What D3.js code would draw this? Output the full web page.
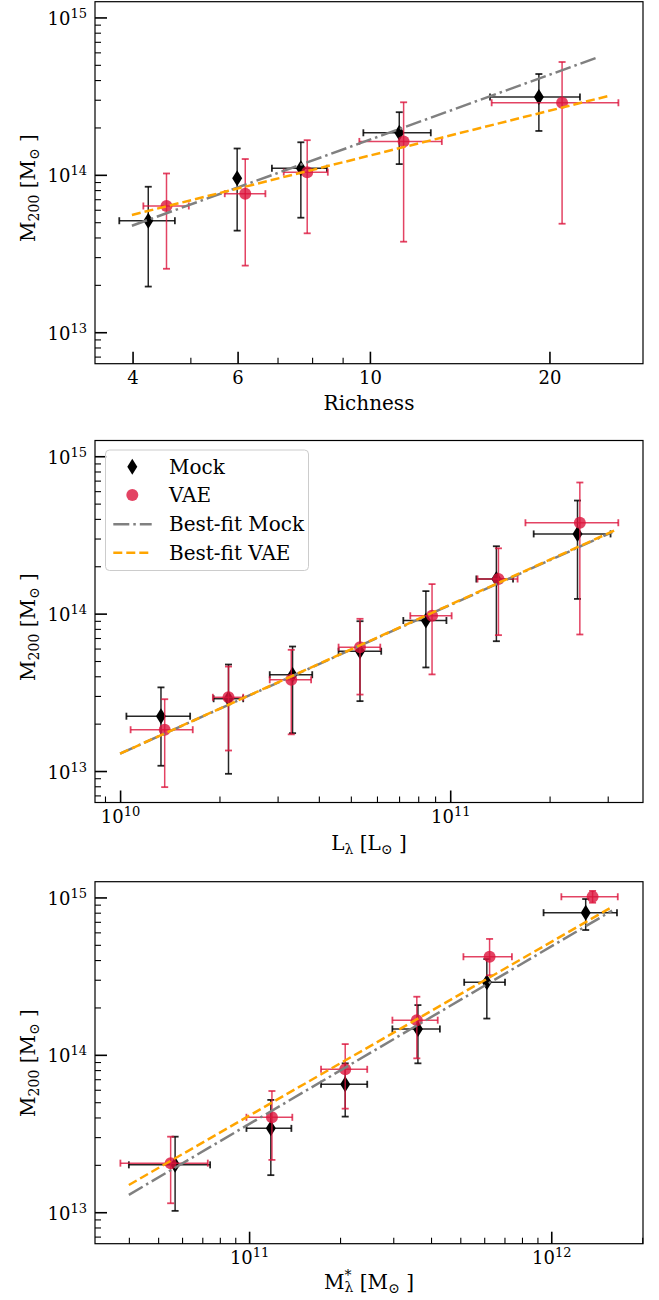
<!DOCTYPE html>
<html><head><meta charset="utf-8">
<script src="https://cdn.jsdelivr.net/npm/d3@7"></script>
<style>
body{margin:0;background:#fff}
svg{display:block}
text{font-family:"DejaVu Serif",serif;fill:#000}
</style>
</head><body>
<svg id="chart" width="659" height="1300"></svg>
<script>
// ---------------- Shared y axis ----------------
const yTicks = [1e13, 1e14, 1e15];
const yTickExp = ["13", "14", "15"];

// ---------------- Panel 1: Richness ----------------
const richTicks = [4, 6, 10, 20];
const richTickLabels = ["4", "6", "10", "20"];
const richMockX   = [4.25, 5.99, 7.66, 11.2, 19.2];
const richMockXLo = [3.80, 5.99, 6.85, 9.75, 15.9];
const richMockXHi = [4.71, 5.99, 8.47, 12.65, 22.5];
const richMockY   = [5.11e13, 9.5e13, 1.10e14, 1.85e14, 3.12e14];
const richMockYLo = [1.95e13, 4.42e13, 5.34e13, 1.17e14, 1.90e14];
const richMockYHi = [8.4e13, 1.47e14, 1.61e14, 2.5e14, 4.37e14];
const richVaeX    = [4.56, 6.18, 7.85, 11.39, 21.0];
const richVaeXLo  = [4.17, 5.71, 7.17, 9.6, 16.0];
const richVaeXHi  = [4.97, 6.68, 8.50, 13.2, 26.1];
const richVaeY    = [6.34e13, 7.59e13, 1.04e14, 1.63e14, 2.87e14];
const richVaeYLo  = [2.53e13, 2.65e13, 4.25e13, 3.76e13, 4.89e13];
const richVaeYHi  = [1.02e14, 1.26e14, 1.66e14, 2.89e14, 5.21e14];
const richFitMockX = [3.99, 24.1],  richFitMockY = [4.75e13, 5.58e14];
const richFitVaeX  = [3.99, 25.2],  richFitVaeY  = [5.56e13, 3.18e14];

// ---------------- Panel 2: L_lambda ----------------
const lumTicks = [1e10, 1e11];
const lumTickExp = ["10", "11"];
const lumMockX   = [1.33e10, 2.13e10, 3.33e10, 5.33e10, 8.44e10, 1.38e11, 2.43e11];
const lumMockXLo = [1.045e10, 1.92e10, 2.84e10, 4.59e10, 7.21e10, 1.2e11, 1.79e11];
const lumMockXHi = [1.63e10, 2.36e10, 3.82e10, 6.18e10, 9.74e10, 1.55e11, 3.06e11];
const lumMockY   = [2.23e13, 2.88e13, 4.09e13, 5.77e13, 9.04e13, 1.66e14, 3.21e14];
const lumMockYLo = [1.08e13, 9.6e12, 1.74e13, 2.78e13, 4.55e13, 6.68e13, 1.24e14];
const lumMockYHi = [3.4e13, 4.75e13, 6.18e13, 8.95e13, 1.39e14, 2.68e14, 5.23e14];
const lumVaeX    = [1.365e10, 2.13e10, 3.3e10, 5.33e10, 8.81e10, 1.4e11, 2.47e11];
const lumVaeXLo  = [1.076e10, 1.91e10, 2.84e10, 4.59e10, 7.57e10, 1.21e11, 1.69e11];
const lumVaeXHi  = [1.66e10, 2.36e10, 3.79e10, 6.14e10, 1.01e11, 1.6e11, 3.23e11];
const lumVaeY    = [1.83e13, 2.94e13, 3.8e13, 6.12e13, 9.69e13, 1.66e14, 3.78e14];
const lumVaeYLo  = [7.9e12, 1.35e13, 1.71e13, 3.06e13, 4.11e13, 7.3e13, 7.37e13];
const lumVaeYHi  = [2.86e13, 4.61e13, 5.89e13, 9.27e13, 1.54e14, 2.6e14, 6.81e14];
const lumFitMockX = [1.0e10, 3.1e11],  lumFitMockY = [1.29e13, 3.3e14];
const lumFitVaeX  = [1.0e10, 3.15e11], lumFitVaeY  = [1.29e13, 3.38e14];

// ---------------- Panel 3: M*_lambda ----------------
const smTicks = [1e11, 1e12];
const smTickExp = ["11", "12"];
const smMockX   = [5.69e10, 1.18e11, 2.08e11, 3.62e11, 6.12e11, 1.3e12];
const smMockXLo = [4.0e10, 9.8e10, 1.73e11, 2.98e11, 5.15e11, 9.43e11];
const smMockXHi = [7.43e10, 1.38e11, 2.46e11, 4.28e11, 7.03e11, 1.65e12];
const smMockY   = [2.0e13, 3.41e13, 6.5e13, 1.46e14, 2.89e14, 8.0e14];
const smMockYLo = [1.02e13, 1.72e13, 4.05e13, 8.83e13, 1.70e14, 6.21e14];
const smMockYHi = [3.02e13, 5.17e13, 8.83e13, 2.07e14, 4.06e14, 9.77e14];
const smVaeX    = [5.5e10, 1.19e11, 2.08e11, 3.59e11, 6.25e11, 1.37e12];
const smVaeXLo  = [3.75e10, 9.8e10, 1.73e11, 2.98e11, 5.12e11, 1.08e12];
const smVaeXHi  = [7.3e10, 1.39e11, 2.46e11, 4.21e11, 7.41e11, 1.66e12];
const smVaeY    = [2.05e13, 4.01e13, 8.09e13, 1.66e14, 4.2e14, 1.01e15];
const smVaeYLo  = [1.14e13, 2.15e13, 4.55e13, 9.5e13, 3.2e14, 9.26e14];
const smVaeYHi  = [3.02e13, 5.89e13, 1.17e14, 2.34e14, 5.45e14, 1.1e15];
const smFitMockX = [4.0e10, 1.59e12], smFitMockY = [1.29e13, 8.24e14];
const smFitVaeX  = [4.0e10, 1.56e12], smFitVaeY  = [1.49e13, 8.53e14];

// ---------------- Legend ----------------
const legendLabels = ["Mock", "VAE", "Best-fit Mock", "Best-fit VAE"];

// ---------------- Layout / style ----------------
const LEFT = 95, RIGHT = 643, PH = 362;
const MOCK_C = "#000", VAE_C = "crimson", FITM_C = "#808080", FITV_C = "#FFA500";
const svg = d3.select("#chart");

function zipPts(x, xl, xh, y, yl, yh) {
  return x.map((v, i) => ({x: v, xl: xl[i], xh: xh[i], y: y[i], yl: yl[i], yh: yh[i]}));
}
function minorTicks(domain, majors) {
  const out = []; const [a, b] = domain;
  for (let e = Math.floor(Math.log10(a)); e <= Math.ceil(Math.log10(b)); e++)
    for (let m = 1; m < 10; m++) {
      const v = m * Math.pow(10, e);
      if (v >= a * 0.9999 && v <= b * 1.0001 && !majors.some(t => Math.abs(t - v) / v < 1e-6)) out.push(v);
    }
  return out;
}
function supLabel(sel, exp, fs, supDy) {
  sel.text(null);
  sel.append("tspan").text("10");
  sel.append("tspan").attr("dy", supDy).attr("font-size", fs).text(exp);
}

function panel(cfg) {
  const top = cfg.top, bottom = top + PH;
  const x = d3.scaleLog().domain(cfg.xDomain).range([LEFT, RIGHT]);
  const y = d3.scaleLog().domain([Math.pow(10, 12.8), Math.pow(10, 15.1)]).range([bottom, top]);
  const g = svg.append("g");

  // x axis
  const xMaj = g.append("g").attr("transform", `translate(0,${bottom})`)
    .call(d3.axisBottom(x).tickValues(cfg.xTicks).tickSizeInner(-12).tickSizeOuter(0).tickPadding(0)
      .tickFormat((d, i) => cfg.xTickLabels ? cfg.xTickLabels[i] : ""));
  xMaj.select(".domain").remove();
  xMaj.selectAll(".tick line").attr("stroke", "#000").attr("stroke-width", 1.6);
  xMaj.selectAll(".tick text").attr("font-size", 18).attr("font-family", "DejaVu Serif").attr("fill", "#000")
    .attr("dy", null).attr("y", cfg.xExp ? 20.5 : 20)
    .each(function(d, i) { if (cfg.xExp) supLabel(d3.select(this), cfg.xExp[i], 13, -7); });
  const xMin = g.append("g").attr("transform", `translate(0,${bottom})`)
    .call(d3.axisBottom(x).tickValues(minorTicks(cfg.xDomain, cfg.xTicks)).tickSizeInner(-6).tickSizeOuter(0).tickFormat(""));
  xMin.select(".domain").remove();
  xMin.selectAll(".tick line").attr("stroke", "#000").attr("stroke-width", 1.1);

  // y axis
  const yMaj = g.append("g").attr("transform", `translate(${LEFT},0)`)
    .call(d3.axisLeft(y).tickValues(yTicks).tickSizeInner(-12).tickSizeOuter(0).tickPadding(8).tickFormat(""));
  yMaj.select(".domain").remove();
  yMaj.selectAll(".tick line").attr("stroke", "#000").attr("stroke-width", 1.6);
  yMaj.selectAll(".tick text").attr("font-size", 18).attr("font-family", "DejaVu Serif").attr("fill", "#000")
    .attr("dy", null).attr("y", 7)
    .each(function(d, i) { supLabel(d3.select(this), yTickExp[i], 13, -7); });
  const yMin = g.append("g").attr("transform", `translate(${LEFT},0)`)
    .call(d3.axisLeft(y).tickValues(minorTicks(y.domain(), yTicks)).tickSizeInner(-6).tickSizeOuter(0).tickFormat(""));
  yMin.select(".domain").remove();
  yMin.selectAll(".tick line").attr("stroke", "#000").attr("stroke-width", 1.1);

  // error bars + markers
  function series(pts, color, barOpacity, marker) {
    const s = g.append("g");
    const cap = 3.5;
    pts.forEach(p => {
      const cx = x(p.x), cy = y(p.y);
      const b = s.append("g").attr("stroke", color).attr("stroke-opacity", barOpacity).attr("fill", "none");
      b.append("line").attr("x1", cx).attr("x2", cx).attr("y1", y(p.yl)).attr("y2", y(p.yh)).attr("stroke-width", 1.5);
      [p.yl, p.yh].forEach(v => b.append("line").attr("x1", cx - cap).attr("x2", cx + cap)
        .attr("y1", y(v)).attr("y2", y(v)).attr("stroke-width", 1.8));
      if (p.xh > p.xl) {
        b.append("line").attr("y1", cy).attr("y2", cy).attr("x1", x(p.xl)).attr("x2", x(p.xh)).attr("stroke-width", 1.5);
        [p.xl, p.xh].forEach(v => b.append("line").attr("y1", cy - cap).attr("y2", cy + cap)
          .attr("x1", x(v)).attr("x2", x(v)).attr("stroke-width", 1.8));
      }
      marker(s, cx, cy);
    });
  }
  const diamond = (s, cx, cy) => s.append("path").attr("d", `M${cx},${cy - 8}L${cx + 5},${cy}L${cx},${cy + 8}L${cx - 5},${cy}Z`).attr("fill", MOCK_C);
  const circle = (s, cx, cy) => s.append("circle").attr("cx", cx).attr("cy", cy).attr("r", 6).attr("fill", VAE_C).attr("fill-opacity", 0.8);

  series(cfg.mock, MOCK_C, 0.85, diamond);
  series(cfg.vae, VAE_C, 0.8, circle);

  // best-fit lines
  const line = d3.line().x(d => x(d[0])).y(d => y(d[1]));
  g.append("path").attr("d", line(d3.zip(cfg.fitMockX, cfg.fitMockY))).attr("fill", "none")
    .attr("stroke", FITM_C).attr("stroke-width", 2.5).attr("stroke-dasharray", "16,4,2.5,4");
  g.append("path").attr("d", line(d3.zip(cfg.fitVaeX, cfg.fitVaeY))).attr("fill", "none")
    .attr("stroke", FITV_C).attr("stroke-width", 2.5).attr("stroke-dasharray", "9,4");

  // frame
  g.append("rect").attr("x", LEFT).attr("y", top).attr("width", RIGHT - LEFT).attr("height", PH)
    .attr("fill", "none").attr("stroke", "#000").attr("stroke-width", 1.2);

  // y label
  const yl = g.append("text").attr("transform", `translate(35,${cfg.yLabelCy}) rotate(-90)`)
    .attr("text-anchor", "middle").attr("font-size", 20);
  yl.append("tspan").text("M");
  yl.append("tspan").attr("font-size", 14).attr("dy", 4).text("200");
  yl.append("tspan").attr("dy", -4).text(" [M");
  yl.append("tspan").attr("font-size", 14).attr("dy", 4).text("\u2299");
  yl.append("tspan").attr("dy", -4).text(" ]");

  // x label
  const xl = g.append("text").attr("x", (LEFT + RIGHT) / 2).attr("y", cfg.xLabelY)
    .attr("text-anchor", "middle").attr("font-size", 20);
  cfg.xLabel(xl);

  return {g, x, y};
}

// Panel 1
panel({
  top: 1.7, xDomain: [3.46, 28.7], xTicks: richTicks, xTickLabels: richTickLabels,
  mock: zipPts(richMockX, richMockXLo, richMockXHi, richMockY, richMockYLo, richMockYHi),
  vae: zipPts(richVaeX, richVaeXLo, richVaeXHi, richVaeY, richVaeYLo, richVaeYHi),
  fitMockX: richFitMockX, fitMockY: richFitMockY, fitVaeX: richFitVaeX, fitVaeY: richFitVaeY,
  yLabelCy: 188, xLabelY: 410,
  xLabel: t => t.text("Richness")
});

// Panel 2
const p2 = panel({
  top: 440.5, xDomain: [Math.pow(10, 9.924), Math.pow(10, 11.584)], xTicks: lumTicks, xExp: lumTickExp,
  mock: zipPts(lumMockX, lumMockXLo, lumMockXHi, lumMockY, lumMockYLo, lumMockYHi),
  vae: zipPts(lumVaeX, lumVaeXLo, lumVaeXHi, lumVaeY, lumVaeYLo, lumVaeYHi),
  fitMockX: lumFitMockX, fitMockY: lumFitMockY, fitVaeX: lumFitVaeX, fitVaeY: lumFitVaeY,
  yLabelCy: 627, xLabelY: 850,
  xLabel: t => {
    t.append("tspan").text("L");
    t.append("tspan").attr("font-size", 14).attr("dy", 4).text("\u03bb");
    t.append("tspan").attr("dy", -4).text(" [L");
    t.append("tspan").attr("font-size", 14).attr("dy", 4).text("\u2299");
    t.append("tspan").attr("dy", -4).text(" ]");
  }
});

// Panel 3
panel({
  top: 881.7, xDomain: [Math.pow(10, 10.49), Math.pow(10, 12.3036)], xTicks: smTicks, xExp: smTickExp,
  mock: zipPts(smMockX, smMockXLo, smMockXHi, smMockY, smMockYLo, smMockYHi),
  vae: zipPts(smVaeX, smVaeXLo, smVaeXHi, smVaeY, smVaeYLo, smVaeYHi),
  fitMockX: smFitMockX, fitMockY: smFitMockY, fitVaeX: smFitVaeX, fitVaeY: smFitVaeY,
  yLabelCy: 1063, xLabelY: 1289,
  xLabel: t => {
    t.append("tspan").text("M");
    t.append("tspan").attr("font-size", 14).attr("dy", -9).text("*");
    t.append("tspan").attr("font-size", 14).attr("dx", -7).attr("dy", 12).text("\u03bb");
    t.append("tspan").attr("dy", -3).text(" [M");
    t.append("tspan").attr("font-size", 14).attr("dy", 4).text("\u2299");
    t.append("tspan").attr("dy", -4).text(" ]");
  }
});

// Legend (panel 2)
const lg = p2.g.append("g");
lg.append("rect").attr("x", 105.5).attr("y", 450).attr("width", 203).attr("height", 120.5).attr("rx", 4)
  .attr("fill", "#fff").attr("fill-opacity", 0.8).attr("stroke", "#cccccc").attr("stroke-width", 1);
const rowY = [466.7, 495, 524.3, 552.7];
legendLabels.forEach((lab, i) => {
  const cy = rowY[i];
  if (i === 0) lg.append("path").attr("d", `M132.3,${cy - 8}L137.3,${cy}L132.3,${cy + 8}L127.3,${cy}Z`).attr("fill", MOCK_C);
  if (i === 1) lg.append("circle").attr("cx", 132.3).attr("cy", cy).attr("r", 6).attr("fill", VAE_C).attr("fill-opacity", 0.8);
  if (i === 2) lg.append("line").attr("x1", 113.3).attr("x2", 151.7).attr("y1", cy).attr("y2", cy)
    .attr("stroke", FITM_C).attr("stroke-width", 2.5).attr("stroke-dasharray", "16,4,2.5,4");
  if (i === 3) lg.append("line").attr("x1", 113.3).attr("x2", 151.7).attr("y1", cy).attr("y2", cy)
    .attr("stroke", FITV_C).attr("stroke-width", 2.5).attr("stroke-dasharray", "9,4");
  lg.append("text").attr("x", 169).attr("y", cy + 7).attr("font-size", 20).text(lab);
});
</script>
</body></html>
